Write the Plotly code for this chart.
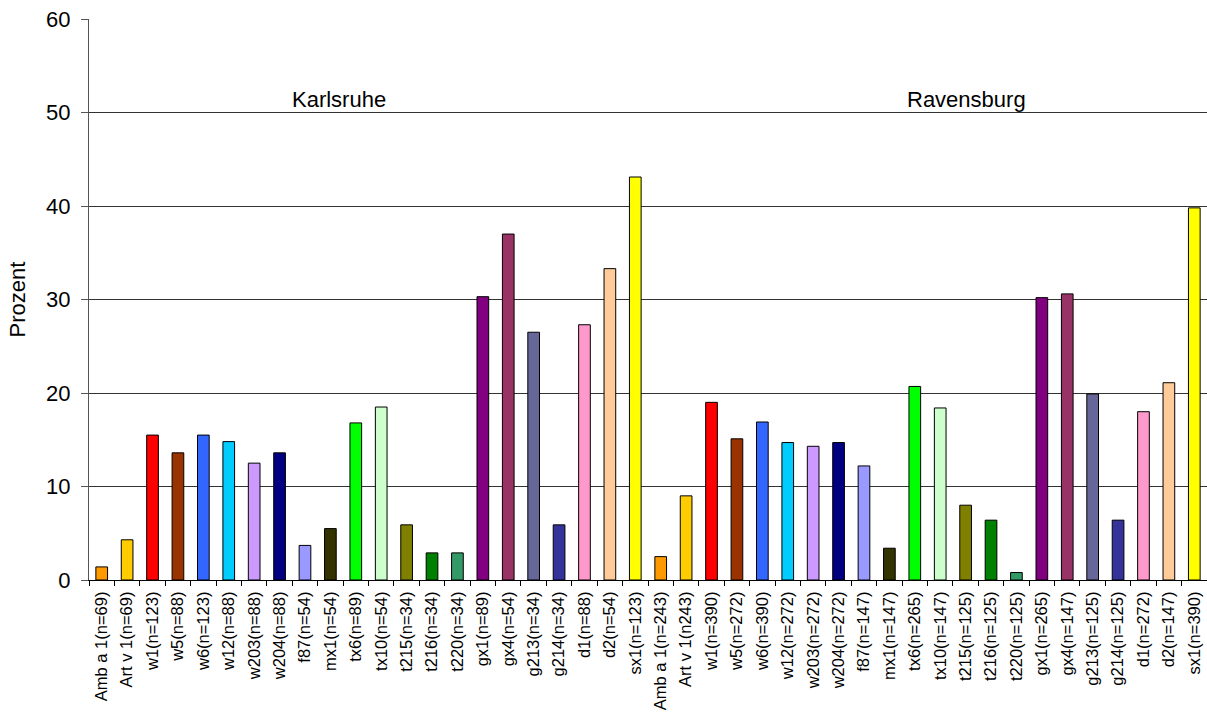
import plotly.graph_objects as go

# Allergen test labels with sample size, Karlsruhe then Ravensburg
labels_karlsruhe = [
    "Amb a 1(n=69)", "Art v 1(n=69)", "w1(n=123)", "w5(n=88)", "w6(n=123)",
    "w12(n=88)", "w203(n=88)", "w204(n=88)", "f87(n=54)", "mx1(n=54)",
    "tx6(n=89)", "tx10(n=54)", "t215(n=34)", "t216(n=34)", "t220(n=34)",
    "gx1(n=89)", "gx4(n=54)", "g213(n=34)", "g214(n=34)", "d1(n=88)",
    "d2(n=54)", "sx1(n=123)",
]
labels_ravensburg = [
    "Amb a 1(n=243)", "Art v 1(n243)", "w1(n=390)", "w5(n=272)", "w6(n=390)",
    "w12(n=272)", "w203(n=272)", "w204(n=272)", "f87(n=147)", "mx1(n=147)",
    "tx6(n=265)", "tx10(n=147)", "t215(n=125)", "t216(n=125)", "t220(n=125)",
    "gx1(n=265)", "gx4(n=147)", "g213(n=125)", "g214(n=125)", "d1(n=272)",
    "d2(n=147)", "sx1(n=390)",
]

# Percent positive per allergen
values_karlsruhe = [
    1.4, 4.3, 15.5, 13.6, 15.5, 14.8, 12.5, 13.6, 3.7, 5.5, 16.8,
    18.5, 5.9, 2.9, 2.9, 30.3, 37.0, 26.5, 5.9, 27.3, 33.3, 43.1,
]
values_ravensburg = [
    2.5, 9.0, 19.0, 15.1, 16.9, 14.7, 14.3, 14.7, 12.2, 3.4, 20.7,
    18.4, 8.0, 6.4, 0.8, 30.2, 30.6, 19.9, 6.4, 18.0, 21.1, 39.8,
]

# One colour per allergen, repeated for both cities
allergen_colors = [
    "#FF9900", "#FFCC00", "#FF0000", "#993300", "#3366FF", "#00CCFF",
    "#CC99FF", "#000080", "#9999FF", "#333300", "#00FF00", "#CCFFCC",
    "#808000", "#008000", "#339966", "#800080", "#993366", "#666699",
    "#333399", "#FF99CC", "#FFCC99", "#FFFF00",
]

y_ticks = [0, 10, 20, 30, 40, 50, 60]

labels = labels_karlsruhe + labels_ravensburg
values = values_karlsruhe + values_ravensburg
colors = allergen_colors + allergen_colors

font_family = "Liberation Sans, Arial, sans-serif"

fig = go.Figure(
    go.Bar(
        x=labels,
        y=values,
        marker=dict(color=colors, line=dict(color="#000000", width=1)),
        showlegend=False,
    )
)

fig.update_layout(
    width=1207,
    height=715,
    margin=dict(l=89, r=0, t=19, b=135),
    paper_bgcolor="white",
    plot_bgcolor="white",
    bargap=0.54,
    font=dict(family=font_family, color="#000000"),
    annotations=[
        dict(text="Karlsruhe", x=0.2236, y=0.857, xref="paper", yref="paper",
             showarrow=False, font=dict(size=22, family=font_family),
             xanchor="center", yanchor="middle"),
        dict(text="Ravensburg", x=0.785, y=0.857, xref="paper", yref="paper",
             showarrow=False, font=dict(size=22, family=font_family),
             xanchor="center", yanchor="middle"),
    ],
)

fig.update_xaxes(
    type="category",
    categoryorder="array",
    categoryarray=labels,
    range=[-0.5, len(labels) - 0.5],
    tickangle=-90,
    tickfont=dict(size=16.5, family=font_family, color="#000000"),
    ticks="outside",
    tickson="boundaries",
    ticklen=5,
    tickcolor="#000000",
    showline=True,
    linecolor="#000000",
    linewidth=1,
    showgrid=False,
    ticklabelstandoff=4,
)

fig.update_yaxes(
    range=[0, 60],
    tickvals=y_ticks,
    tickfont=dict(size=22, family=font_family, color="#000000"),
    ticks="outside",
    ticklen=7,
    tickcolor="#555555",
    showline=True,
    linecolor="#555555",
    linewidth=1,
    showgrid=True,
    gridcolor="#333333",
    gridwidth=1,
    zeroline=False,
    ticklabelstandoff=6,
    title=dict(text="Prozent", font=dict(size=22, family=font_family), standoff=14),
)

fig.write_html("out.html")
